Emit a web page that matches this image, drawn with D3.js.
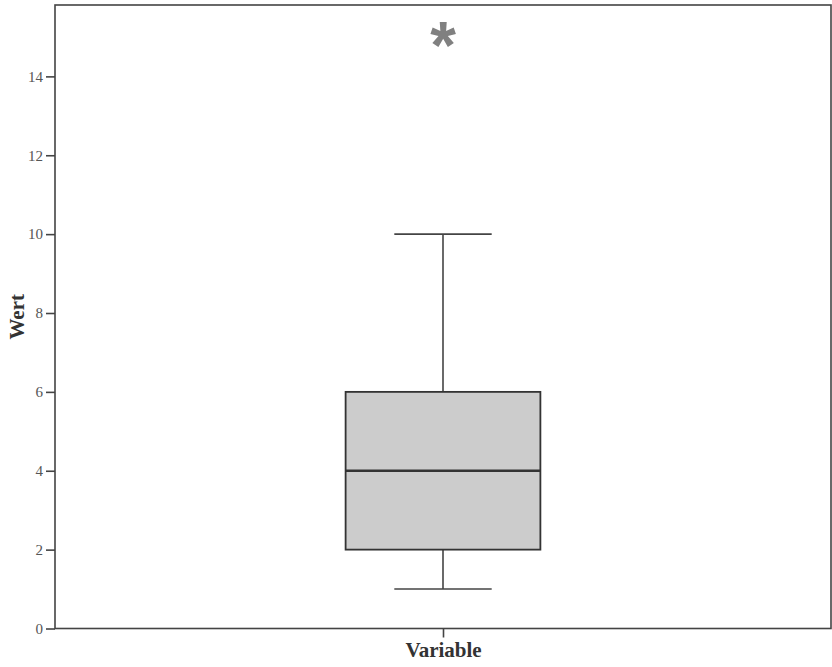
<!DOCTYPE html>
<html><head><meta charset="utf-8">
<script src="https://cdn.jsdelivr.net/npm/d3@7"></script>
<style>body{margin:0;background:#fff}svg{display:block}</style>
</head><body><svg id="c" width="832" height="667"></svg>
<script>
const categories = ["Variable"];
const whiskerLow = [1];
const q1 = [2];
const median = [4];
const q3 = [6];
const whiskerHigh = [10];
const extremes = [[15]];
const yTicks = [0, 2, 4, 6, 8, 10, 12, 14];
const yLabel = "Wert";

const serif = "'Liberation Serif', 'Times New Roman', Times, serif";
const svg = d3.select("#c");
const L = 55, R = 831, T = 5, B = 628.5;
const y = d3.scaleLinear().domain([0, 15.81]).range([B, T]);
const x = d3.scalePoint().domain(categories).range([L, R]).padding(0.5);
const boxW = (R - L) * 0.251;
const capW = boxW * 0.5;
const dark = "#444";

// frame
svg.append("rect").attr("x", L).attr("y", T).attr("width", R - L).attr("height", B - T)
  .attr("fill", "none").attr("stroke", dark).attr("stroke-width", 1.6);

// y axis
const ya = svg.append("g").attr("transform", `translate(${L},0)`)
  .call(d3.axisLeft(y).tickValues(yTicks).tickSize(9).tickPadding(3).tickFormat(d3.format("d")));
ya.select(".domain").remove();
ya.selectAll(".tick line").attr("stroke", dark).attr("stroke-width", 1.6);
ya.selectAll(".tick text").attr("font-family", serif).attr("font-size", 15).attr("fill", "#555");

// x axis
const xa = svg.append("g").attr("transform", `translate(0,${B})`)
  .call(d3.axisBottom(x).tickSize(9).tickPadding(5));
xa.select(".domain").remove();
xa.selectAll(".tick line").attr("stroke", dark).attr("stroke-width", 1.6);
xa.selectAll(".tick text").attr("font-family", serif).attr("font-size", 21)
  .attr("font-weight", "bold").attr("fill", "#333");

// y label
svg.append("text").attr("transform", `translate(24,${(T + B) / 2}) rotate(-90)`)
  .attr("text-anchor", "middle").attr("font-family", serif).attr("font-size", 21)
  .attr("font-weight", "bold").attr("fill", "#333").text(yLabel);

categories.forEach((c, i) => {
  const cx = x(c);
  const g = svg.append("g");
  g.append("line").attr("x1", cx).attr("x2", cx).attr("y1", y(whiskerHigh[i])).attr("y2", y(q3[i]))
    .attr("stroke", dark).attr("stroke-width", 1.6);
  g.append("line").attr("x1", cx).attr("x2", cx).attr("y1", y(q1[i])).attr("y2", y(whiskerLow[i]))
    .attr("stroke", dark).attr("stroke-width", 1.6);
  g.append("line").attr("x1", cx - capW / 2).attr("x2", cx + capW / 2).attr("y1", y(whiskerHigh[i])).attr("y2", y(whiskerHigh[i]))
    .attr("stroke", dark).attr("stroke-width", 1.6);
  g.append("line").attr("x1", cx - capW / 2).attr("x2", cx + capW / 2).attr("y1", y(whiskerLow[i])).attr("y2", y(whiskerLow[i]))
    .attr("stroke", dark).attr("stroke-width", 1.6);
  g.append("rect").attr("x", cx - boxW / 2).attr("y", y(q3[i])).attr("width", boxW).attr("height", y(q1[i]) - y(q3[i]))
    .attr("fill", "#cccccc").attr("stroke", "#333").attr("stroke-width", 1.8);
  g.append("line").attr("x1", cx - boxW / 2).attr("x2", cx + boxW / 2).attr("y1", y(median[i])).attr("y2", y(median[i]))
    .attr("stroke", "#333").attr("stroke-width", 2.6);
  extremes[i].forEach(v => {
    g.append("text").attr("x", cx).attr("y", y(v) + 31).attr("text-anchor", "middle")
      .attr("font-family", "'Liberation Sans', Arial, sans-serif").attr("font-weight", "bold").attr("font-size", 66)
      .attr("fill", "#808080").text("*");
  });
});
</script></body></html>
